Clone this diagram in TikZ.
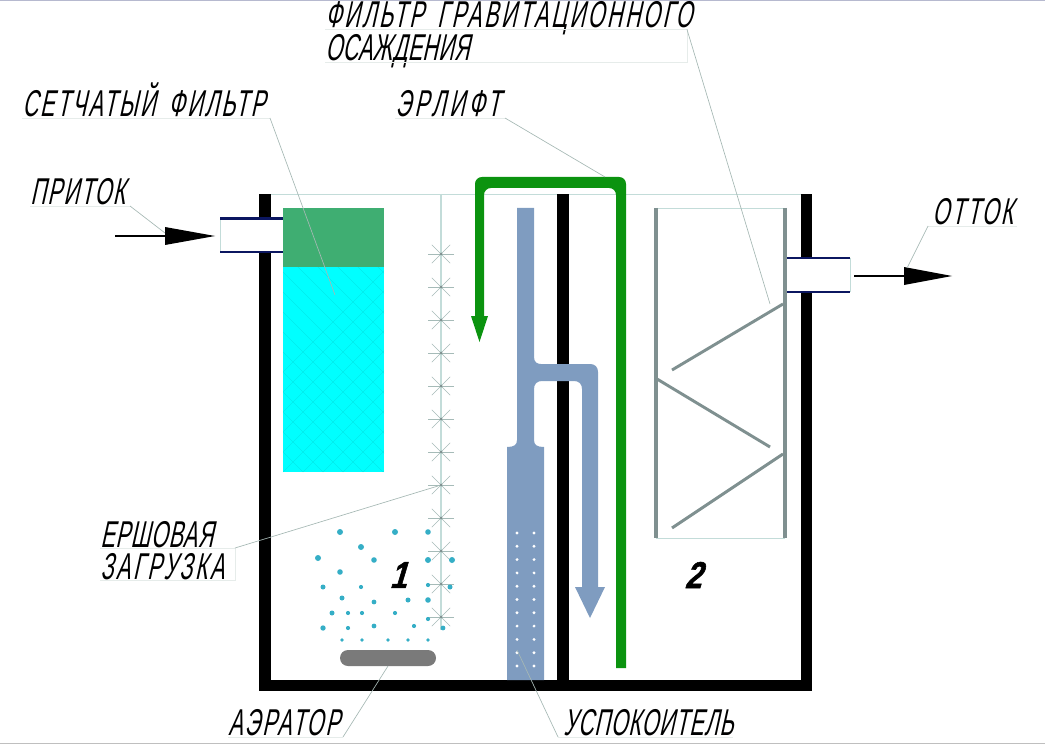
\documentclass[tikz,border=0pt]{standalone}
\usepackage{fontspec}
\newfontfamily\cadfont[FakeSlant=0.22,FakeStretch=0.575,WordSpace=1.6]{Liberation Sans}
\newfontfamily\numfont[FakeSlant=0.3,FakeBold=1.5,FakeStretch=0.8]{Liberation Sans}
\definecolor{wallnavy}{HTML}{0B1660}
\definecolor{sieveGreen}{HTML}{3FAE72}
\definecolor{sieveCyan}{HTML}{00FFFF}
\definecolor{settler}{HTML}{7F9CC0}
\definecolor{airlift}{HTML}{0B930F}
\definecolor{baffle}{HTML}{7F9090}
\definecolor{thinline}{HTML}{C3DCD9}
\definecolor{leader}{HTML}{A6B8B4}
\definecolor{under}{HTML}{E6ECEA}
\definecolor{bubble}{HTML}{35AEC6}
\tikzset{
  caption/.style={font=\cadfont\fontsize{28}{28}\selectfont\addfontfeature{LetterSpace=#1}, anchor=base west, inner sep=0pt},
  number/.style={font=\numfont\fontsize{28}{28}\selectfont\bfseries, inner sep=0pt},
  wall/.style={fill=black},
  pipeline/.style={wallnavy, line width=1.9pt},
  hairline/.style={thinline, line width=0.6pt},
  lead/.style={leader, line width=0.5pt},
  underl/.style={under, line width=0.6pt},
  plate/.style={baffle, line width=2.2pt},
}
\begin{document}
\begin{tikzpicture}[x=0.75pt,y=-0.75pt]
  \useasboundingbox (0,0) rectangle (1045,745);
  \draw [color=wallnavy!30, line width=1pt] (0,0.7) -- (1045,0.7);
  \draw [color=black!25, line width=1pt] (0,743.7) -- (1045,743.7);
  % tank
  \draw [hairline] (271,194) -- (801,194);
  \fill [wall] (259,194) rectangle (271,691);
  \fill [wall] (801,194) rectangle (812,691);
  \fill [wall] (259,680) rectangle (812,691);
  \fill [wall] (557,194) rectangle (569,680);
  % sieve filter
  \fill [sieveCyan] (283,267) rectangle (384,472);
  \begin{scope}
    \clip (283,267) rectangle (384,472);
    \foreach \k in {0,20,...,320} {
      \draw [sieveCyan!88!black, line width=0.2pt] (283+\k-100,472) -- (283+\k+120,252);
      \draw [sieveCyan!88!black, line width=0.2pt] (283+\k-220,252) -- (283+\k,472);
    }
  \end{scope}
  \fill [sieveGreen] (283,208) rectangle (384,267);
  % brush
  \draw [hairline, line width=1pt] (441,194) -- (441,630);
  \foreach \y in {254,287,...,617} {
    \foreach \a in {0,45,135} {
      \draw [thinline!85!black, line width=0.5pt] (441,\y) +(\a:13) -- +(\a+180:13);
    }
    \fill [baffle] (441,\y) circle (1.5);
  }
  % bubbles
  \foreach \x/\y/\r in {340/532/3, 395/532/3, 428/532/2.8, 361/547/3, 318/558/3, 374/560/2.8,
      428/560/3, 452/560/3, 340/572/2.8, 323/587/2.5, 361/587/2.1, 428/585/2.1, 450/587/2.5,
      342/598/2.5, 374/602/2.4, 408/600/2.5, 428/600/2.8, 332/613/2.5, 348/613/2.1, 362/613/2.1,
      395/613/2.1, 428/619/2.1, 323/628/2.7, 348/628/2.1, 374/626/2.4, 414/626/2.1, 443/628/2.4,
      342/640/1.9, 362/640/1.9, 388/640/1.9, 408/640/1.9, 428/640/1.9} {
    \fill [bubble] (\x,\y) circle (\r);
  }
  % aerator
  \fill [black!52, rounded corners=6] (340,650) rectangle (436,666);
  % settler
  \fill [settler] (517,208) -- (534,208) -- (534,357) .. controls (534,362) and (537,364) .. (541,364)
    -- (590,364) .. controls (595,364) and (598,367) .. (598,372) -- (598,587) -- (605,587)
    -- (590,618) -- (575,587) -- (582,587) -- (582,389) .. controls (582,384) and (579,381) .. (574,381)
    -- (542,381) .. controls (537,381) and (534,384) .. (534,389) -- (534,440)
    .. controls (534,445) and (537,447) .. (544,447) -- (544,680) -- (507,680) -- (507,447)
    .. controls (514,447) and (517,445) .. (517,440) -- cycle;
  \foreach \y in {0,...,10} {
    \fill [white] (517,533+13.3*\y) circle (1.6);
    \fill [white] (534,533+13.3*\y) circle (1.6);
  }
  % airlift
  \fill [airlift] (626,668) -- (626,184) .. controls (626,180) and (623,177) .. (619,177) -- (482,177)
    .. controls (478,177) and (475,180) .. (475,184) -- (475,316) -- (471,316) -- (479.5,342)
    -- (488,316) -- (484,316) -- (484,195) .. controls (484,191) and (487,188) .. (491,188) -- (609,188)
    .. controls (613,188) and (616,191) .. (616,195) -- (616,668) -- cycle;
  % gravity filter
  \draw [hairline] (656,208) -- (785,208);
  \draw [hairline] (656,538) -- (785,538);
  \draw [baffle, line width=2.6pt] (656,208) -- (656,538);
  \draw [baffle, line width=2.6pt] (785,208) -- (785,538);
  \draw [plate] (672,370) -- (783,304);
  \draw [plate] (657,379) -- (770,447);
  \draw [plate] (672,528) -- (783,454);
  % pipes
  \fill [white] (220,219) rectangle (283,252);
  \draw [hairline] (220,219) -- (220,252);
  \draw [pipeline] (220,218.5) -- (283,218.5);
  \draw [pipeline] (220,252) -- (283,252);
  \fill [white] (787,258) rectangle (850,292);
  \draw [hairline] (850,258) -- (850,292);
  \draw [pipeline] (787,258) -- (850,258);
  \draw [pipeline] (787,292) -- (850,292);
  % flow arrows
  \coordinate (inStart) at (115,236);
  \coordinate (inHead) at (165,236);
  \coordinate (outStart) at (854,276);
  \coordinate (outHead) at (904,276);
  \draw [line width=0.9pt] (inStart) -- (inHead);
  \fill (165,227) -- (215,236) -- (165,245) -- cycle;
  \draw [line width=0.9pt] (outStart) -- (outHead);
  \fill (904,267) -- (952,276) -- (904,285) -- cycle;
  % captions
  \node [caption=7] (gravityA) at (325,28) {ФИЛЬТР ГРАВИТАЦИОННОГО};
  \node [caption=1] (gravityB) at (325,61) {ОСАЖДЕНИЯ};
  \node [caption=6] (sieve) at (22,117) {СЕТЧАТЫЙ ФИЛЬТР};
  \node [caption=10] (erlift) at (395,117) {ЭРЛИФТ};
  \node [caption=4.5] (inflow) at (30,205) {ПРИТОК};
  \node [caption=6.5] (outflow) at (932,225) {ОТТОК};
  \node [caption=2] (brushA) at (100,547) {ЕРШОВАЯ};
  \node [caption=7] (brushB) at (100,579) {ЗАГРУЗКА};
  \node [caption=6] (aerator) at (228,735) {АЭРАТОР};
  \node [caption=2.4] (calmer) at (563,735) {УСПОКОИТЕЛЬ};
  \node [number] (tankA) at (398,575) {1};
  \node [number] (tankB) at (693,575) {2};
  % leaders
  \coordinate (gravityEnd) at (770,304);
  \coordinate (sieveEnd) at (335,295);
  \coordinate (erliftEnd) at (605,177);
  \coordinate (inflowEnd) at (165,233);
  \coordinate (outflowEnd) at (907,268);
  \coordinate (brushEnd) at (438,486);
  \coordinate (aeratorEnd) at (388,666);
  \coordinate (calmerEnd) at (517,650);
  \draw [underl] (325,29.5) -- (687,29.5) -- (687,62.5) -- (325,62.5);
  \draw [lead] (687,29.5) -- (gravityEnd);
  \draw [underl] (22,118) -- (270,118);
  \draw [lead] (270,118) -- (sieveEnd);
  \draw [underl] (395,118) -- (505,118);
  \draw [lead] (505,118) -- (erliftEnd);
  \draw [underl] (30,206) -- (130,206);
  \draw [lead] (130,206) -- (inflowEnd);
  \draw [underl] (928,226) -- (1017,226);
  \draw [lead] (928,226) -- (outflowEnd);
  \draw [underl] (100,548) -- (235,548) -- (235,580) -- (100,580);
  \draw [lead] (235,548) -- (brushEnd);
  \draw [underl] (228,737) -- (343,737);
  \draw [lead] (343,737) -- (aeratorEnd);
  \draw [underl] (558,737) -- (733,737);
  \draw [lead] (558,737) -- (calmerEnd);
\end{tikzpicture}
\end{document}
